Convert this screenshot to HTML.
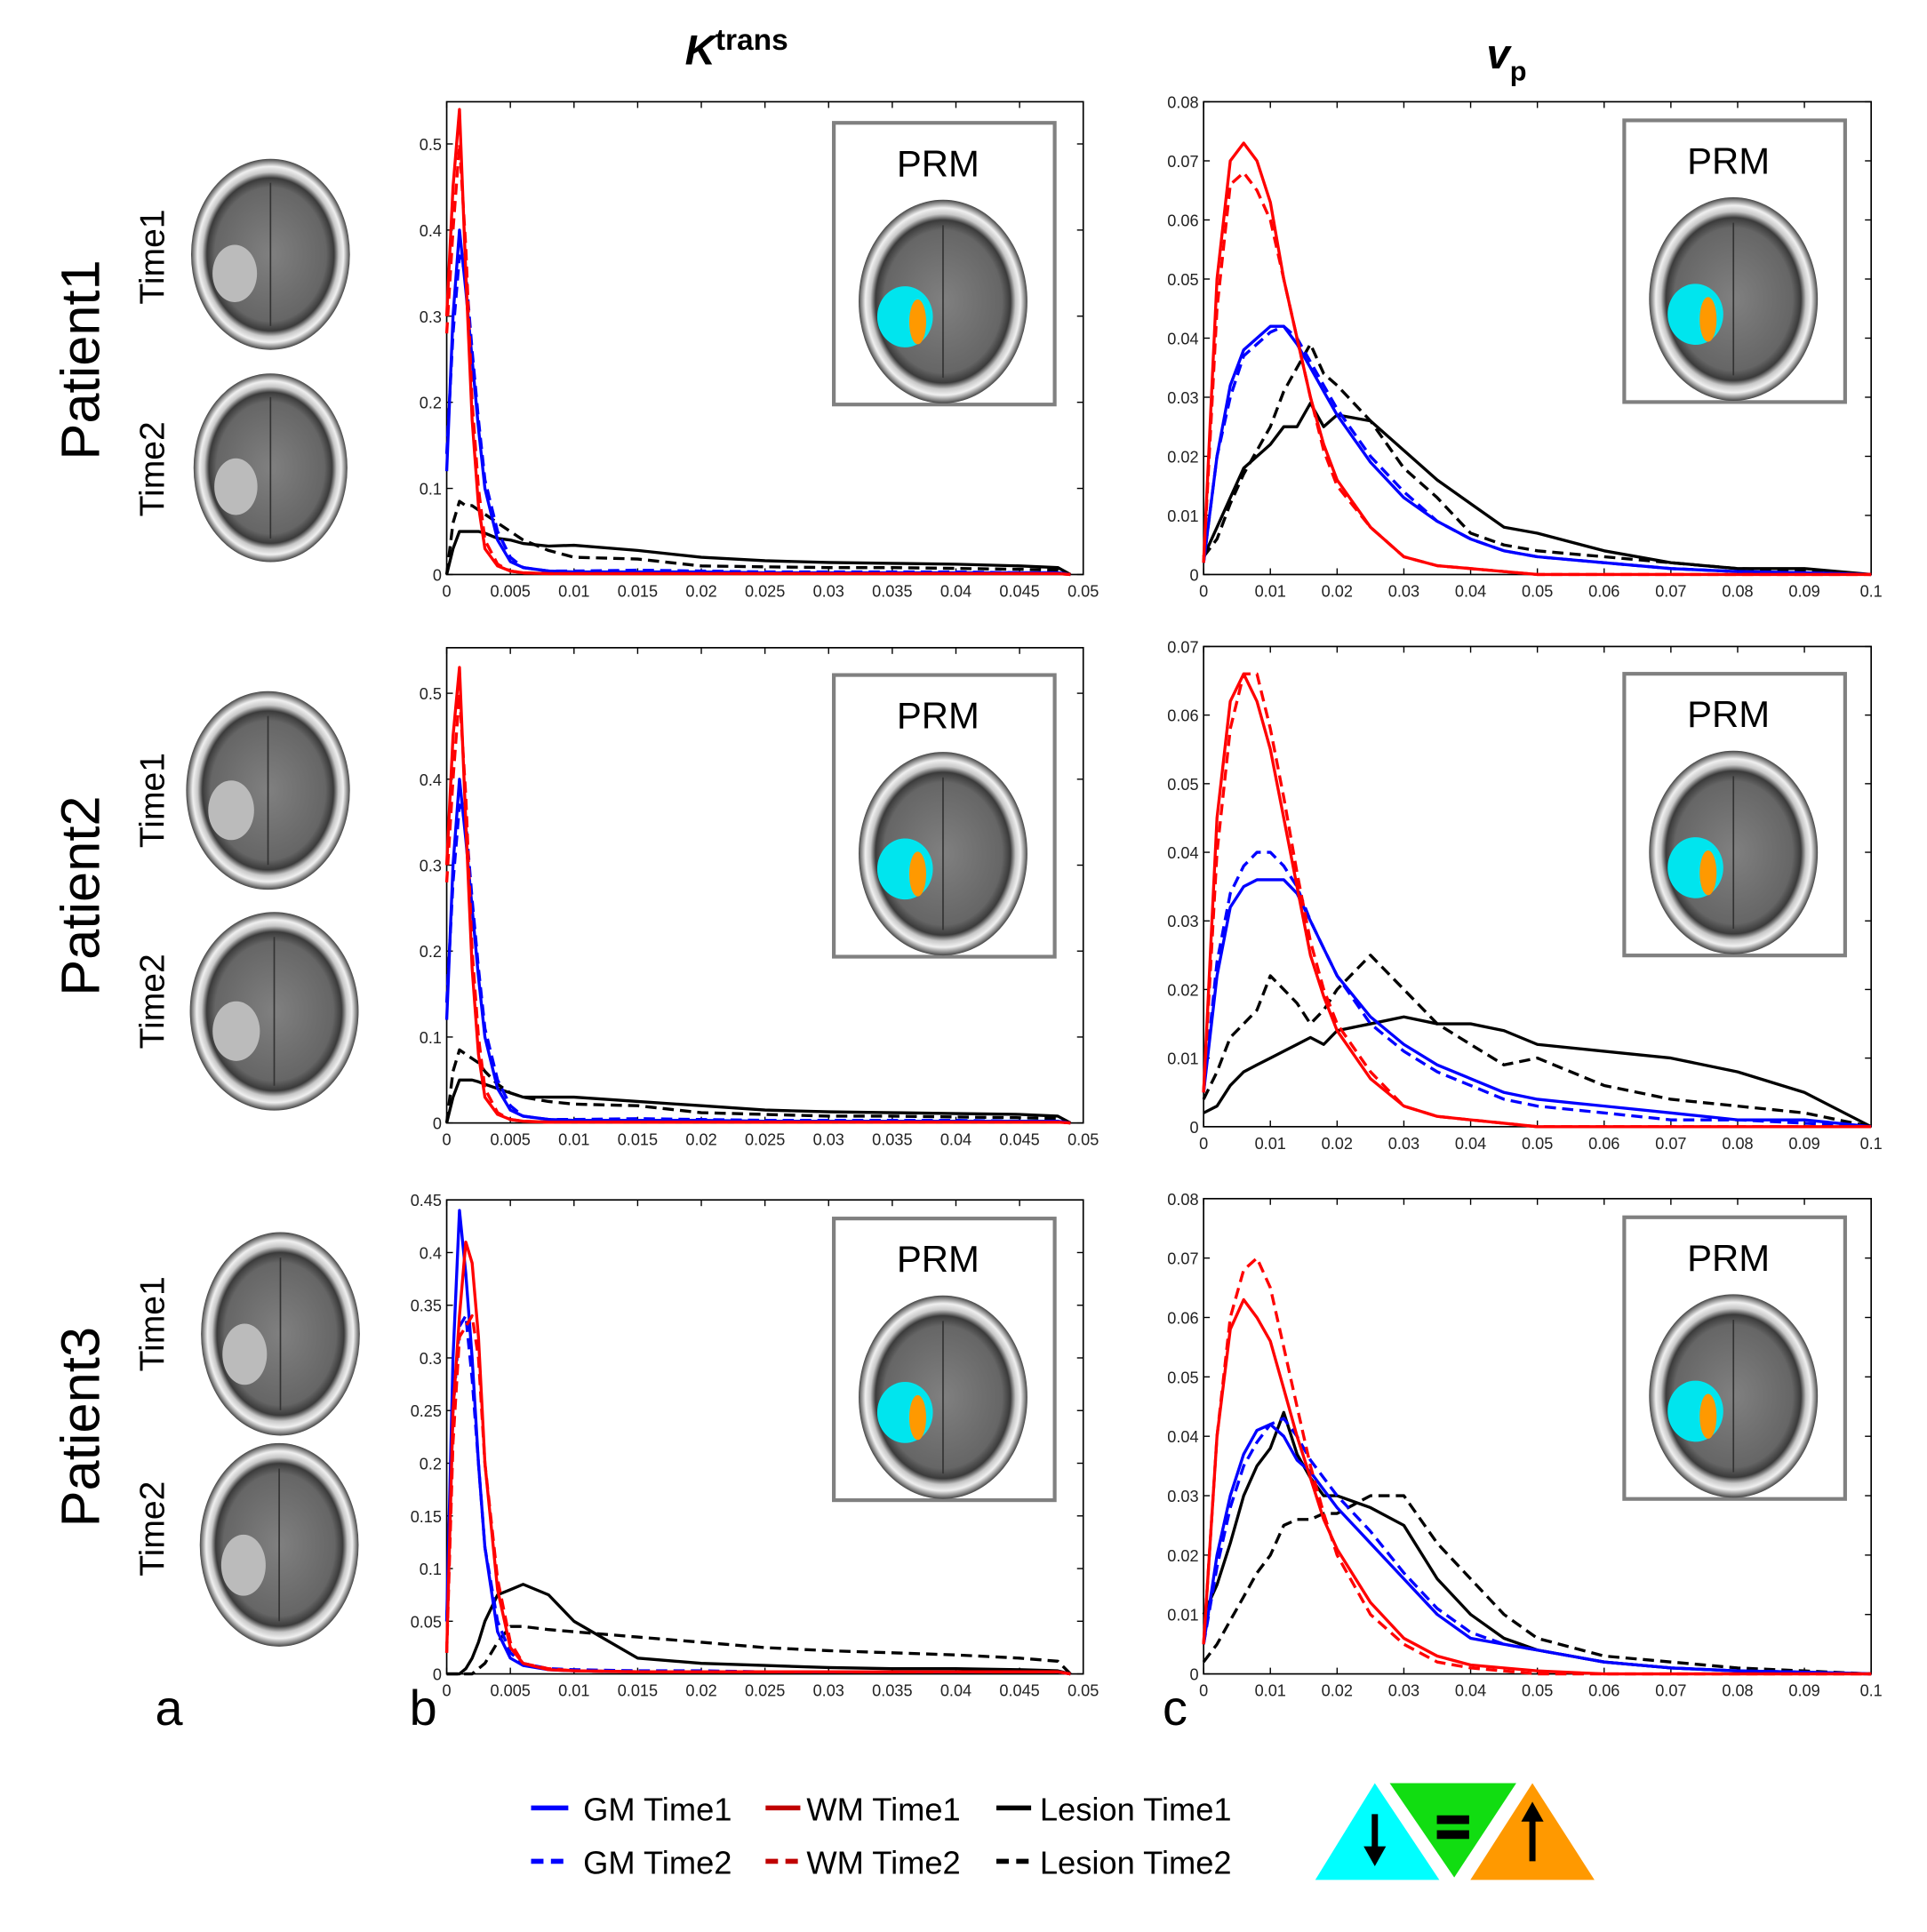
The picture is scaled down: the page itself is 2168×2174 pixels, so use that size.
<!DOCTYPE html>
<html><head><meta charset="utf-8"><style>
html,body{margin:0;padding:0;background:#fff;}
svg{display:block;}
</style></head><body>
<svg id="fig" width="2168" height="2174" viewBox="0 0 1553 1557" preserveAspectRatio="none" xmlns="http://www.w3.org/2000/svg" font-family="'Liberation Sans', 'DejaVu Sans', sans-serif">
<defs>
<radialGradient id="brainG" cx="50%" cy="50%" r="50%">
<stop offset="0" stop-color="#808080"/><stop offset="0.7" stop-color="#666"/><stop offset="0.8" stop-color="#3a3a3a"/><stop offset="0.86" stop-color="#c8c8c8"/><stop offset="0.92" stop-color="#f0f0f0"/><stop offset="0.97" stop-color="#8a8a8a"/><stop offset="1" stop-color="#444"/>
</radialGradient>
</defs>
<rect width="1553" height="1557" fill="#fff"/>
<g id="static">
<text x="552" y="52" font-size="34" font-weight="bold" font-style="italic">K<tspan font-size="24" dy="-12" font-style="normal">trans</tspan></text>
<text x="1198" y="55" font-size="34" font-weight="bold" font-style="italic">v<tspan font-size="22" dy="10" font-style="normal">p</tspan></text>
<text transform="translate(80,290) rotate(-90)" text-anchor="middle" font-size="44">Patient1</text>
<text transform="translate(80,722) rotate(-90)" text-anchor="middle" font-size="44">Patient2</text>
<text transform="translate(80,1150) rotate(-90)" text-anchor="middle" font-size="44">Patient3</text>
<text transform="translate(132,207) rotate(-90)" text-anchor="middle" font-size="28">Time1</text>
<text transform="translate(132,378) rotate(-90)" text-anchor="middle" font-size="28">Time2</text>
<text transform="translate(132,645) rotate(-90)" text-anchor="middle" font-size="28">Time1</text>
<text transform="translate(132,807) rotate(-90)" text-anchor="middle" font-size="28">Time2</text>
<text transform="translate(132,1067) rotate(-90)" text-anchor="middle" font-size="28">Time1</text>
<text transform="translate(132,1232) rotate(-90)" text-anchor="middle" font-size="28">Time2</text>
<text x="125" y="1390" font-size="40">a</text>
<text x="330" y="1390" font-size="40">b</text>
<text x="937" y="1390" font-size="40">c</text>
</g>
<g id="brains"></g>
<g id="charts"></g>
<g id="legend">
<line x1="428" y1="1457" x2="458" y2="1457" stroke="#0000ff" stroke-width="4"/>
<text x="470" y="1467" font-size="26">GM Time1</text>
<line x1="617" y1="1457" x2="645" y2="1457" stroke="#c00000" stroke-width="4"/>
<text x="650" y="1467" font-size="26">WM Time1</text>
<line x1="803" y1="1457" x2="831" y2="1457" stroke="#000" stroke-width="4"/>
<text x="838" y="1467" font-size="26">Lesion Time1</text>
<line x1="428" y1="1500" x2="458" y2="1500" stroke="#0000ff" stroke-width="4" stroke-dasharray="10,6"/>
<text x="470" y="1510" font-size="26">GM Time2</text>
<line x1="617" y1="1500" x2="645" y2="1500" stroke="#c00000" stroke-width="4" stroke-dasharray="10,6"/>
<text x="650" y="1510" font-size="26">WM Time2</text>
<line x1="803" y1="1500" x2="831" y2="1500" stroke="#000" stroke-width="4" stroke-dasharray="10,6"/>
<text x="838" y="1510" font-size="26">Lesion Time2</text>
<polygon points="1060,1515 1160,1515 1108,1437" fill="#00ffff"/>
<polygon points="1120,1437 1222,1437 1172,1513" fill="#11dd11"/>
<polygon points="1185,1515 1285,1515 1235,1437" fill="#ff9900"/>
<line x1="1108" y1="1462" x2="1108" y2="1495" stroke="#000" stroke-width="5"/>
<polygon points="1099,1488 1117,1488 1108,1504" fill="#000"/>
<rect x="1158" y="1463" width="26" height="7" fill="#000"/><rect x="1158" y="1475" width="26" height="7" fill="#000"/>
<line x1="1235" y1="1460" x2="1235" y2="1500" stroke="#000" stroke-width="5"/>
<polygon points="1226,1468 1244,1468 1235,1452" fill="#000"/>
</g>
</svg>
<script>
// ---- data: K^trans panels ----
const kX = [0,0.0005,0.001,0.0015,0.002,0.0025,0.003,0.004,0.005,0.006,0.008,0.01,0.015,0.02,0.025,0.03,0.035,0.04,0.045,0.048,0.049];
const k1GM1 = [0.12,0.3,0.4,0.33,0.25,0.17,0.1,0.04,0.015,0.008,0.004,0.003,0.003,0.003,0.002,0.002,0.002,0.002,0.002,0.002,0];
const k1GM2 = [0.14,0.28,0.37,0.35,0.26,0.18,0.11,0.05,0.02,0.008,0.004,0.004,0.005,0.004,0.003,0.003,0.003,0.003,0.002,0.002,0];
const k1WM1 = [0.3,0.45,0.54,0.35,0.18,0.08,0.03,0.01,0.004,0.002,0.001,0.001,0.001,0.001,0.001,0.001,0.001,0.001,0.001,0.001,0];
const k1WM2 = [0.28,0.4,0.5,0.38,0.2,0.1,0.04,0.012,0.004,0.002,0.001,0.001,0.001,0.001,0.001,0.001,0.001,0.001,0.001,0.001,0];
const k1L1 = [0,0.03,0.05,0.05,0.05,0.05,0.048,0.042,0.04,0.036,0.033,0.034,0.028,0.02,0.016,0.014,0.013,0.012,0.01,0.008,0];
const k1L2 = [0,0.06,0.085,0.08,0.08,0.075,0.07,0.06,0.05,0.04,0.028,0.02,0.018,0.01,0.009,0.008,0.008,0.007,0.006,0.005,0];
const k2GM1 = [0.12,0.3,0.4,0.33,0.25,0.17,0.1,0.04,0.015,0.008,0.004,0.003,0.003,0.003,0.002,0.002,0.002,0.002,0.002,0.002,0];
const k2GM2 = [0.14,0.28,0.37,0.35,0.26,0.18,0.11,0.05,0.02,0.008,0.004,0.004,0.005,0.004,0.003,0.003,0.003,0.003,0.002,0.002,0];
const k2WM1 = [0.3,0.45,0.53,0.35,0.18,0.08,0.03,0.01,0.004,0.002,0.001,0.001,0.001,0.001,0.001,0.001,0.001,0.001,0.001,0.001,0];
const k2WM2 = [0.28,0.4,0.5,0.38,0.2,0.1,0.04,0.012,0.004,0.002,0.001,0.001,0.001,0.001,0.001,0.001,0.001,0.001,0.001,0.001,0];
const k2L1 = [0,0.03,0.05,0.05,0.05,0.048,0.045,0.04,0.035,0.03,0.03,0.03,0.025,0.02,0.015,0.013,0.012,0.011,0.01,0.008,0];
const k2L2 = [0,0.06,0.085,0.08,0.075,0.07,0.06,0.045,0.035,0.03,0.025,0.022,0.02,0.012,0.01,0.008,0.008,0.007,0.006,0.005,0];
const k3GM1 = [0.05,0.3,0.44,0.38,0.3,0.2,0.12,0.04,0.015,0.008,0.004,0.003,0.002,0.002,0.002,0.002,0.002,0.002,0.002,0.002,0];
const k3GM2 = [0.05,0.25,0.33,0.34,0.28,0.2,0.12,0.05,0.02,0.01,0.005,0.004,0.003,0.003,0.002,0.002,0.002,0.002,0.002,0.002,0];
const k3WM1 = [0.02,0.25,0.34,0.41,0.39,0.32,0.2,0.08,0.025,0.01,0.004,0.003,0.002,0.002,0.002,0.002,0.002,0.002,0.002,0.002,0];
const k3WM2 = [0.02,0.22,0.32,0.33,0.34,0.3,0.2,0.09,0.03,0.01,0.005,0.003,0.002,0.002,0.002,0.002,0.002,0.002,0.002,0.002,0];
const k3L1 = [0,0,0,0.005,0.015,0.03,0.05,0.075,0.08,0.085,0.075,0.05,0.015,0.01,0.008,0.006,0.005,0.005,0.004,0.003,0];
const k3L2 = [0,0,0,0,0,0.005,0.01,0.03,0.045,0.045,0.042,0.04,0.035,0.03,0.025,0.022,0.02,0.018,0.015,0.012,0];
// ---- data: v_p panels ----
const vX = [0,0.002,0.004,0.006,0.008,0.01,0.012,0.014,0.016,0.018,0.02,0.025,0.03,0.035,0.04,0.045,0.05,0.06,0.07,0.08,0.09,0.1];
const v1WM1 = [0.002,0.05,0.07,0.073,0.07,0.063,0.05,0.04,0.03,0.022,0.016,0.008,0.003,0.0015,0.001,0.0005,0,0,0,0,0,0];
const v1WM2 = [0.002,0.045,0.066,0.068,0.065,0.06,0.05,0.04,0.03,0.021,0.015,0.008,0.003,0.0015,0.001,0.0005,0,0,0,0,0,0];
const v1GM1 = [0.002,0.02,0.032,0.038,0.04,0.042,0.042,0.039,0.035,0.031,0.027,0.019,0.013,0.009,0.006,0.004,0.003,0.002,0.001,0.0005,0.0003,0];
const v1GM2 = [0.002,0.02,0.03,0.037,0.039,0.041,0.042,0.04,0.036,0.032,0.028,0.02,0.014,0.009,0.006,0.004,0.003,0.002,0.001,0.0005,0.0003,0];
const v1L1 = [0.003,0.008,0.013,0.018,0.02,0.022,0.025,0.025,0.029,0.025,0.027,0.026,0.021,0.016,0.012,0.008,0.007,0.004,0.002,0.001,0.001,0];
const v1L2 = [0.003,0.006,0.012,0.017,0.021,0.025,0.031,0.035,0.039,0.034,0.032,0.026,0.018,0.013,0.007,0.005,0.004,0.003,0.002,0.001,0.0007,0];
const v2WM1 = [0.005,0.045,0.062,0.066,0.062,0.055,0.045,0.035,0.025,0.019,0.014,0.007,0.003,0.0015,0.001,0.0005,0,0,0,0,0,0];
const v2WM2 = [0.005,0.04,0.058,0.066,0.066,0.058,0.048,0.037,0.027,0.02,0.015,0.008,0.003,0.0015,0.001,0.0005,0,0,0,0,0,0];
const v2GM1 = [0.005,0.022,0.032,0.035,0.036,0.036,0.036,0.034,0.03,0.026,0.022,0.016,0.012,0.009,0.007,0.005,0.004,0.003,0.002,0.001,0.001,0];
const v2GM2 = [0.005,0.024,0.034,0.038,0.04,0.04,0.038,0.035,0.03,0.026,0.022,0.015,0.011,0.008,0.006,0.004,0.003,0.002,0.001,0.001,0.0005,0];
const v2L1 = [0.002,0.003,0.006,0.008,0.009,0.01,0.011,0.012,0.013,0.012,0.014,0.015,0.016,0.015,0.015,0.014,0.012,0.011,0.01,0.008,0.005,0];
const v2L2 = [0.004,0.008,0.013,0.015,0.017,0.022,0.02,0.018,0.015,0.017,0.02,0.025,0.02,0.015,0.012,0.009,0.01,0.006,0.004,0.003,0.002,0];
const v3WM1 = [0.005,0.04,0.058,0.063,0.06,0.056,0.048,0.04,0.033,0.026,0.021,0.012,0.006,0.003,0.0015,0.001,0.0005,0,0,0,0,0];
const v3WM2 = [0.005,0.04,0.06,0.068,0.07,0.065,0.055,0.045,0.035,0.027,0.02,0.01,0.005,0.002,0.001,0.0005,0,0,0,0,0,0];
const v3GM1 = [0.005,0.02,0.03,0.037,0.041,0.042,0.04,0.036,0.034,0.031,0.028,0.022,0.016,0.01,0.006,0.005,0.004,0.002,0.001,0.0005,0.0003,0];
const v3GM2 = [0.005,0.018,0.028,0.035,0.039,0.042,0.043,0.04,0.036,0.033,0.03,0.024,0.017,0.011,0.007,0.005,0.004,0.002,0.001,0.0005,0.0003,0];
const v3L1 = [0.01,0.015,0.022,0.03,0.035,0.038,0.044,0.037,0.033,0.03,0.03,0.028,0.025,0.016,0.01,0.006,0.004,0.002,0.001,0.0005,0.0003,0];
const v3L2 = [0.002,0.005,0.009,0.013,0.017,0.02,0.025,0.026,0.026,0.027,0.027,0.03,0.03,0.022,0.016,0.01,0.006,0.003,0.002,0.001,0.0005,0];
// tick labels
const kXTicks = ["0","0.005","0.01","0.015","0.02","0.025","0.03","0.035","0.04","0.045","0.05"];
const vXTicks = ["0","0.01","0.02","0.03","0.04","0.05","0.06","0.07","0.08","0.09","0.1"];
const kYTicks12 = ["0","0.1","0.2","0.3","0.4","0.5"];
const kYTicks3 = ["0","0.05","0.1","0.15","0.2","0.25","0.3","0.35","0.4","0.45"];
const vYTicks13 = ["0","0.01","0.02","0.03","0.04","0.05","0.06","0.07","0.08"];
const vYTicks2 = ["0","0.01","0.02","0.03","0.04","0.05","0.06","0.07"];

const NS = "http://www.w3.org/2000/svg";
function mk(tag, attrs, parent){const e=document.createElementNS(NS,tag);for(const k in attrs)e.setAttribute(k,attrs[k]);parent.appendChild(e);return e;}
const charts = document.getElementById('charts');
const panels = [
 {name:'ktrans-patient1',x0:360,x1:873,y0:82,y1:463,xmax:0.05,ymax:0.549,xt:kXTicks,yt:kYTicks12,x:kX,s:[k1L1,k1L2,k1GM1,k1GM2,k1WM1,k1WM2],prm:[672,99]},
 {name:'ktrans-patient2',x0:360,x1:873,y0:522,y1:905,xmax:0.05,ymax:0.553,xt:kXTicks,yt:kYTicks12,x:kX,s:[k2L1,k2L2,k2GM1,k2GM2,k2WM1,k2WM2],prm:[672,544]},
 {name:'ktrans-patient3',x0:360,x1:873,y0:967,y1:1349,xmax:0.05,ymax:0.45,xt:kXTicks,yt:kYTicks3,x:kX,s:[k3L1,k3L2,k3GM1,k3GM2,k3WM1,k3WM2],prm:[672,982]},
 {name:'vp-patient1',x0:970,x1:1508,y0:82,y1:463,xmax:0.1,ymax:0.08,xt:vXTicks,yt:vYTicks13,x:vX,s:[v1L1,v1L2,v1GM1,v1GM2,v1WM1,v1WM2],prm:[1309,97]},
 {name:'vp-patient2',x0:970,x1:1508,y0:521,y1:908,xmax:0.1,ymax:0.07,xt:vXTicks,yt:vYTicks2,x:vX,s:[v2L1,v2L2,v2GM1,v2GM2,v2WM1,v2WM2],prm:[1309,543]},
 {name:'vp-patient3',x0:970,x1:1508,y0:966,y1:1349,xmax:0.1,ymax:0.08,xt:vXTicks,yt:vYTicks13,x:vX,s:[v3L1,v3L2,v3GM1,v3GM2,v3WM1,v3WM2],prm:[1309,981]}
];
const styles=[['#000','','lesion-time1'],['#000','9,5','lesion-time2'],['#0000ff','','gm-time1'],['#0000ff','9,5','gm-time2'],['#ff0000','','wm-time1'],['#ff0000','9,5','wm-time2']];
function brain(g,cx,cy,rx,ry,blobs){
  mk('ellipse',{cx:cx,cy:cy,rx:rx,ry:ry,fill:'url(#brainG)'},g);
  mk('line',{x1:cx,y1:cy-ry*0.75,x2:cx,y2:cy+ry*0.75,stroke:'#333','stroke-width':1.2},g);
  (blobs||[]).forEach(b=>mk('ellipse',{cx:cx+b[0]*rx,cy:cy+b[1]*ry,rx:b[2]*rx,ry:b[3]*ry,fill:b[4]},g));
}
panels.forEach(p=>{
  const g=mk('g',{},charts);
  
  
  const sx=v=>p.x0+(v/p.xmax)*(p.x1-p.x0);
  const sy=v=>p.y1-(v/p.ymax)*(p.y1-p.y0);
  const frame=mk('rect',{x:p.x0,y:p.y0,width:p.x1-p.x0,height:p.y1-p.y0,fill:'none',stroke:'#000','stroke-width':1.2},g);
  
  
  p.xt.forEach((t,i)=>{
    const v=i*p.xmax/(p.xt.length-1), x=sx(v);
    mk('line',{x1:x,y1:p.y1,x2:x,y2:p.y1-5,stroke:'#000'},g);
    mk('line',{x1:x,y1:p.y0,x2:x,y2:p.y0+5,stroke:'#000'},g);
    const tx=mk('text',{x:x,y:p.y1+18,'font-size':13,'text-anchor':'middle',fill:'#222'},g);
    tx.textContent=t;
    
    
  });
  const step=parseFloat(p.yt[1]);
  p.yt.forEach((t,i)=>{
    const y=sy(i*step);
    mk('line',{x1:p.x0,y1:y,x2:p.x0+5,y2:y,stroke:'#000'},g);
    mk('line',{x1:p.x1,y1:y,x2:p.x1-5,y2:y,stroke:'#000'},g);
    const tx=mk('text',{x:p.x0-4,y:y+5,'font-size':13,'text-anchor':'end',fill:'#222'},g);
    tx.textContent=t;
    
    
  });
  p.s.forEach((ser,si)=>{
    const pts=ser.map((v,i)=>sx(p.x[i]).toFixed(1)+','+sy(v).toFixed(1)).join(' ');
    const pl=mk('polyline',{points:pts,fill:'none',stroke:styles[si][0],'stroke-width':2.4,'stroke-linejoin':'round'},g);
    if(styles[si][1])pl.setAttribute('stroke-dasharray',styles[si][1]);
    
    
  });
  const bx=p.prm[0], by=p.prm[1];
  const ib=mk('g',{},g);
  
  
  mk('rect',{x:bx,y:by,width:178,height:227,fill:'#fff',stroke:'#808080','stroke-width':3},ib);
  const pt=mk('text',{x:bx+84,y:by+43,'font-size':30,'text-anchor':'middle'},ib);
  pt.textContent='PRM';
  
  
  brain(ib,bx+88,by+144,68,82,[[-0.45,0.15,0.33,0.3,'#00e5ee'],[-0.3,0.2,0.1,0.22,'#ff9900']]);
});
const bg=document.getElementById('brains');
[[218,205,64,77],[218,377,62,76],[216,637,66,80],[221,815,68,80],[226,1075,64,82],[225,1245,64,82]].forEach((b,i)=>{
  const g=mk('g',{},bg);
  
  
  brain(g,b[0],b[1],b[2],b[3],[[-0.45,0.2,0.28,0.3,'#bbbbbb']]);
});
</script>
</body></html>
